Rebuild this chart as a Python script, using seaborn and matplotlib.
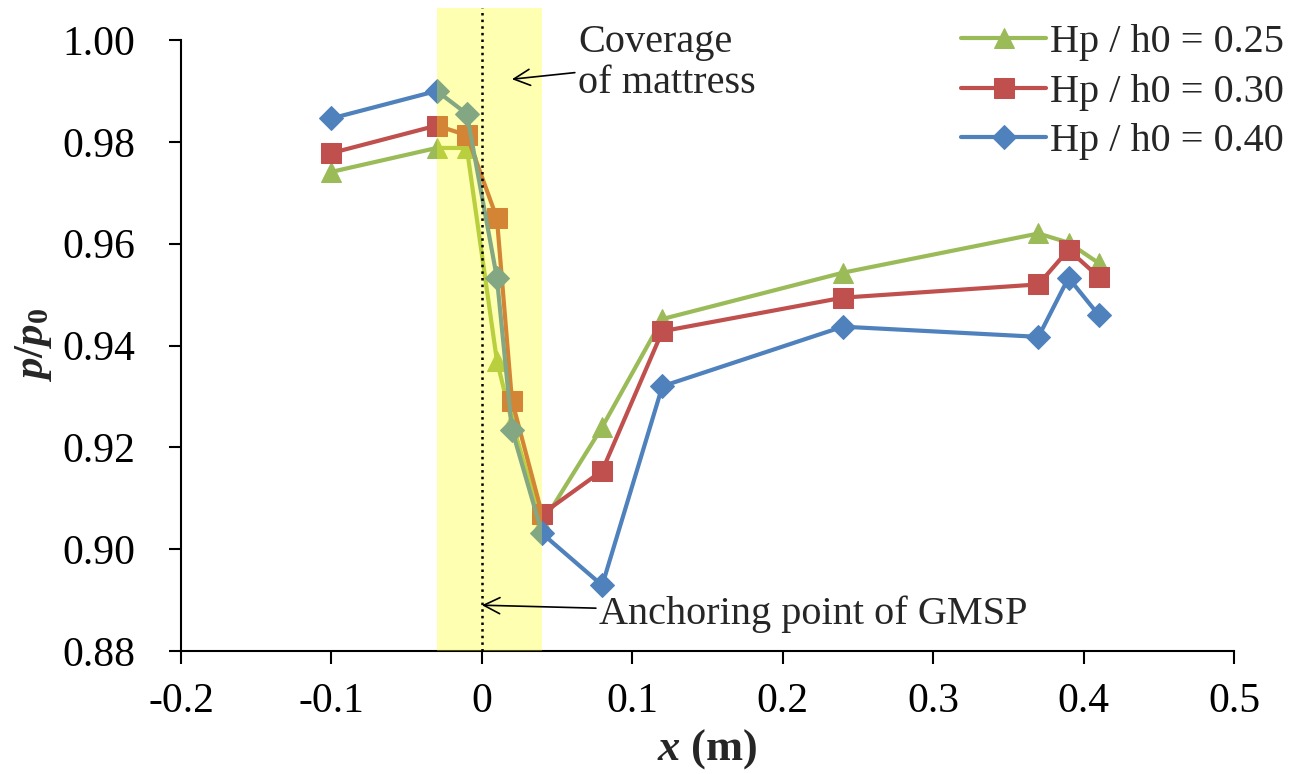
import pandas as pd
import matplotlib
matplotlib.use("Agg")
import matplotlib.pyplot as plt
import seaborn as sns

# readings along the channel (m) and relative pressure for three pile heights
x_pos = [-0.1, -0.03, -0.01, 0.01, 0.02, 0.04, 0.08, 0.12, 0.24, 0.37, 0.39, 0.41]
p_025 = [0.9741, 0.9788, 0.9788, 0.937, 0.925, 0.905, 0.924, 0.9452, 0.9543, 0.9620, 0.9602, 0.9562]
p_030 = [0.9778, 0.9832, 0.9813, 0.9650, 0.9292, 0.9069, 0.9154, 0.9428, 0.9494, 0.9520, 0.9588, 0.9535]
p_040 = [0.9846, 0.9900, 0.9855, 0.9533, 0.9235, 0.9031, 0.8929, 0.9320, 0.9437, 0.9417, 0.9533, 0.9460]
labels = ["Hp / h0 = 0.25", "Hp / h0 = 0.30", "Hp / h0 = 0.40"]
colors = ["#9BBB59", "#C0504D", "#4F81BD"]
markers = ["^", "s", "D"]

sns.set_style("ticks")
plt.rcParams["font.family"] = ["Liberation Serif", "DejaVu Serif"]
plt.rcParams["mathtext.fontset"] = "custom"
plt.rcParams["mathtext.it"] = "Liberation Serif:italic:bold"
plt.rcParams["mathtext.rm"] = "Liberation Serif:bold"
plt.rcParams["mathtext.bf"] = "Liberation Serif:bold"

df = pd.concat([
    pd.DataFrame({"x": x_pos, "p": vals, "case": lab})
    for vals, lab in zip([p_025, p_030, p_040], labels)
])

fig = plt.figure(figsize=(13.08, 7.74), dpi=100)
ax = fig.add_axes([0.1384, 0.1589, 0.805, 0.7894])

msizes = {"^": 14, "s": 15, "D": 12}
for lab, col, mk in zip(labels, colors, markers):
    sub = df[df["case"] == lab]
    sns.lineplot(data=sub, x="x", y="p", ax=ax, color=col, marker=mk,
                 markersize=msizes[mk], markeredgecolor=col, linewidth=3,
                 label=lab, zorder=2)

ax.set_xlim(-0.2, 0.5)
ax.set_ylim(0.88, 1.00)
ax.set_xticks([-0.2, -0.1, 0, 0.1, 0.2, 0.3, 0.4, 0.5])
ax.set_xticklabels(["-0.2", "-0.1", "0", "0.1", "0.2", "0.3", "0.4", "0.5"])
ax.set_yticks([0.88, 0.90, 0.92, 0.94, 0.96, 0.98, 1.00])
ax.set_yticklabels(["0.88", "0.90", "0.92", "0.94", "0.96", "0.98", "1.00"])

# mattress coverage band and anchoring line, drawn over the data
ax.axvspan(-0.03, 0.04, ymin=0, ymax=1.052, color="#FFFF00", alpha=0.3,
           lw=0, zorder=3, clip_on=False)
ax.plot([0, 0], [0.88, 1.0063], color="black", ls=":", lw=1.8, zorder=4,
        clip_on=False)

ax.annotate("Coverage\nof mattress", xy=(0.02, 0.9923), xytext=(0.064, 0.9955),
            fontsize=29, ha="left", va="center", linespacing=1.15,
            arrowprops=dict(arrowstyle="->", color="black", lw=1.2,
                            shrinkA=0, shrinkB=0), annotation_clip=False)
ax.annotate("Anchoring point of GMSP", xy=(0.0, 0.8890), xytext=(0.078, 0.8873),
            fontsize=29, ha="left", va="center",
            arrowprops=dict(arrowstyle="->", color="black", lw=1.2,
                            shrinkA=0, shrinkB=0), annotation_clip=False)

sns.despine(ax=ax)
for sp in ["left", "bottom"]:
    ax.spines[sp].set_linewidth(1.5)
    ax.spines[sp].set_color("black")
ax.tick_params(axis="both", direction="out", length=9, width=1.5,
               labelsize=30, colors="black")
ax.tick_params(axis="y", pad=24)
ax.tick_params(axis="x", pad=14)

ax.set_xlabel(r"$x$ (m)", fontsize=32, fontweight="bold", labelpad=4)
ax.set_ylabel(r"$p/p_0$", fontsize=31, labelpad=6)

ax.legend(loc="upper right", bbox_to_anchor=(1.0, 1.0),
          bbox_transform=fig.transFigure, frameon=False, fontsize=29,
          handlelength=2.1, handletextpad=0.1, labelspacing=0.3,
          borderaxespad=0.2)

fig.savefig("out.png", dpi=100)
